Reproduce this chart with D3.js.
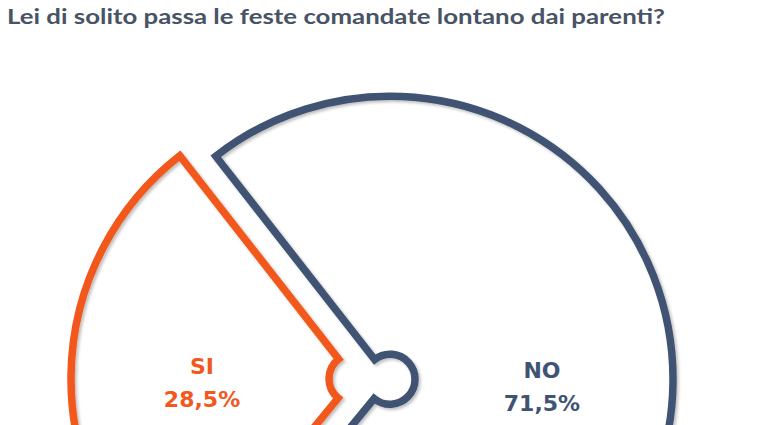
<!DOCTYPE html>
<html>
<head>
<meta charset="utf-8">
<script src="https://cdn.jsdelivr.net/npm/d3@7"></script>
<style>
html,body{margin:0;padding:0;background:#fff;overflow:hidden;}
svg{display:block;}
</style>
</head>
<body>
<script>
const title = "Lei di solito passa le feste comandate lontano dai parenti?";
const categories = ["SI", "NO"];
const values = [28.5, 71.5];
const valueLabels = ["28,5%", "71,5%"];
const colors = ["#F2581E", "#3F5373"];

const W = 768, H = 425;
const cx = 372, cy = 379;
const outerR = 283, innerR = 25, explode = 18, labelR = 152;

const svg = d3.select("body").append("svg").attr("width", W).attr("height", H);

const defs = svg.append("defs");
const f = defs.append("filter").attr("id", "sh").attr("x", "-20%").attr("y", "-20%").attr("width", "140%").attr("height", "140%");
f.append("feDropShadow").attr("dx", 2).attr("dy", 2).attr("stdDeviation", 1.8)
  .attr("flood-color", "#000").attr("flood-opacity", 0.25);

svg.append("text")
  .attr("x", 7).attr("y", 24)
  .attr("font-family", "Lato, 'DejaVu Sans', sans-serif")
  .attr("font-weight", "bold").attr("font-size", 21)
  .attr("fill", "#485366")
  .attr("textLength", 658).attr("lengthAdjust", "spacingAndGlyphs")
  .text(title);

const data = categories.map((c, i) => ({cat: c, value: values[i], label: valueLabels[i], color: colors[i]}));
const startDeg = -38 - 360 * values[0] / 100;
const pie = d3.pie().sort(null).value(d => d.value)
  .startAngle(startDeg * Math.PI / 180)
  .endAngle(startDeg * Math.PI / 180 + 2 * Math.PI);
const arcs = pie(data);

const arc = d3.arc().innerRadius(innerR).outerRadius(outerR);
const labelArc = d3.arc().innerRadius(labelR).outerRadius(labelR);

const g = svg.append("g").attr("transform", `translate(${cx},${cy})`);

arcs.forEach(a => {
  const mid = (a.startAngle + a.endAngle) / 2;
  const ox = Math.sin(mid) * explode, oy = -Math.cos(mid) * explode;
  const sg = g.append("g").attr("transform", `translate(${ox},${oy})`);
  sg.append("path").attr("d", arc(a))
    .attr("fill", "none").attr("stroke", a.data.color)
    .attr("stroke-width", 7.5).attr("stroke-linejoin", "miter")
    .attr("filter", "url(#sh)");
  const [lx, ly] = labelArc.centroid(a);
  const t = sg.append("text").attr("text-anchor", "middle")
    .attr("font-family", "'DejaVu Sans', sans-serif")
    .attr("font-weight", "bold").attr("font-size", 22)
    .attr("fill", a.data.color);
  t.append("tspan").attr("x", lx).attr("y", ly - 3).text(a.data.cat);
  t.append("tspan").attr("x", lx).attr("y", ly + 30).text(a.data.label);
});
</script>
</body>
</html>
